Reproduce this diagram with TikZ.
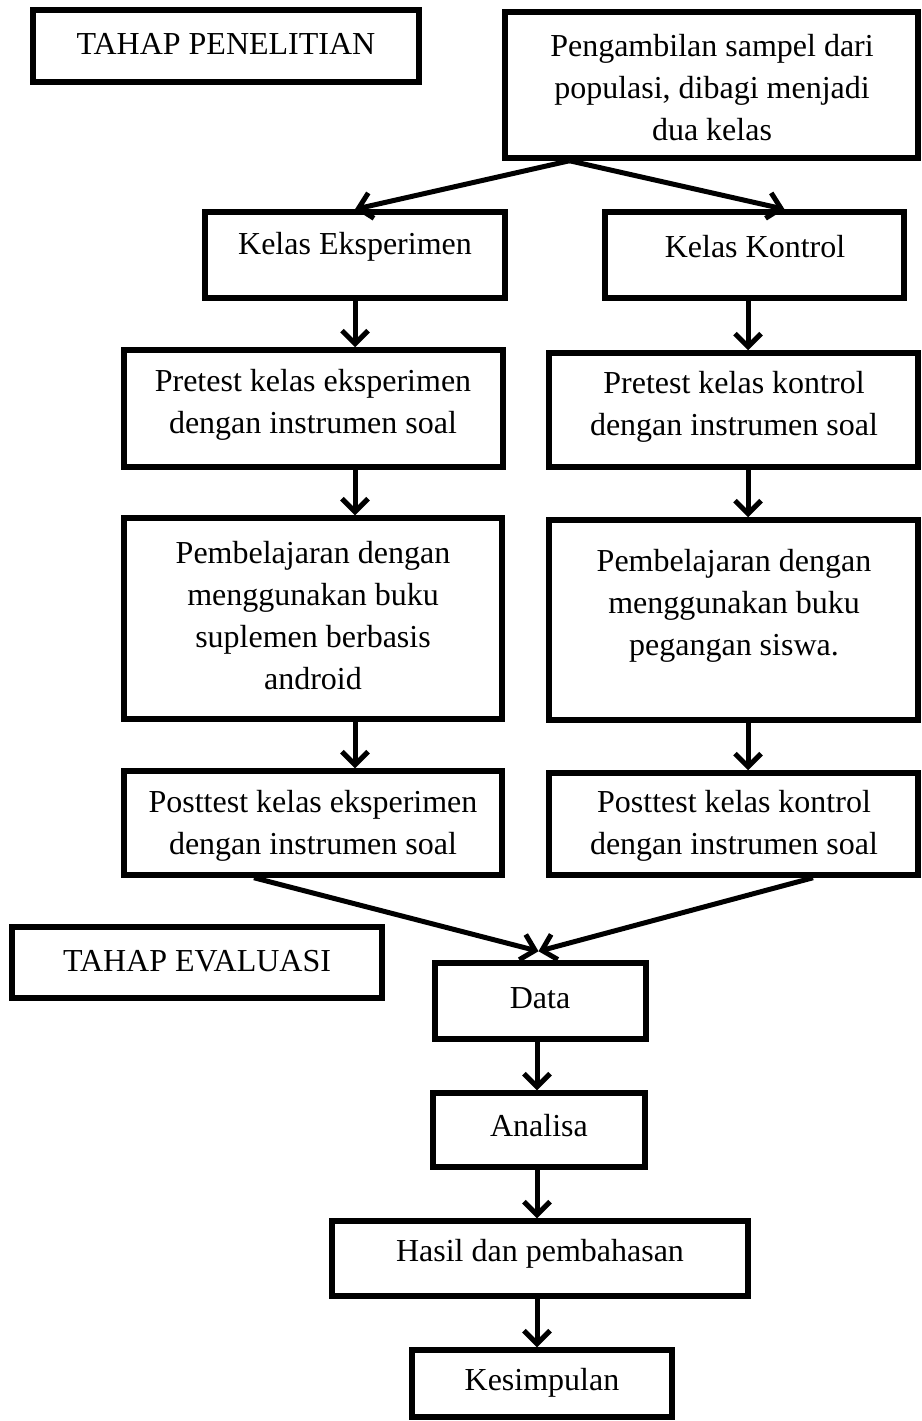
\documentclass[tikz,border=0pt]{standalone}
\usepackage{fontspec}
\setmainfont{Liberation Serif}
\usetikzlibrary{arrows.meta,calc}
\begin{document}
\begin{tikzpicture}[x=1pt,y=-1pt,
  box/.style={draw, line width=5.5pt, rectangle, inner sep=0pt},
  txt/.style={inner sep=0pt, align=center, font=\fontsize{32}{42}\selectfont},
  arr/.style={line width=5pt, -{Straight Barb[length=13pt,width=26pt]}}]
\useasboundingbox (0,0) rectangle (921,1421);
% boxes
\node[box, minimum width=386pt, minimum height=72pt] (tp) at (226,46) {};
\node[box, minimum width=413pt, minimum height=146pt] (peng) at (711.5,85) {};
\node[box, minimum width=300pt, minimum height=86pt] (ke) at (355,255) {};
\node[box, minimum width=299pt, minimum height=86pt] (kk) at (754.5,255) {};
\node[box, minimum width=379pt, minimum height=117pt] (pe) at (313.5,408.5) {};
\node[box, minimum width=369pt, minimum height=114pt] (pk) at (733.5,410) {};
\node[box, minimum width=378pt, minimum height=201pt] (be) at (313,618.5) {};
\node[box, minimum width=369pt, minimum height=200pt] (bk) at (733.5,620) {};
\node[box, minimum width=378pt, minimum height=104pt] (qe) at (313,823) {};
\node[box, minimum width=369pt, minimum height=102pt] (qk) at (733.5,824) {};
\node[box, minimum width=370pt, minimum height=71pt] (te) at (197,962.5) {};
\node[box, minimum width=211pt, minimum height=76pt] (data) at (540.5,1001) {};
\node[box, minimum width=212pt, minimum height=74pt] (an) at (539,1130) {};
\node[box, minimum width=416pt, minimum height=75pt] (hs) at (540,1258.5) {};
\node[box, minimum width=260pt, minimum height=67pt] (ks) at (542,1383.5) {};
% texts
\node[txt] (tpT) at (226,44) {TAHAP PENELITIAN};
\node[txt] (pengT) at (712,88) {Pengambilan sampel dari\\populasi, dibagi menjadi\\dua kelas};
\node[txt] (keT) at (355,247) {Kelas Eksperimen};
\node[txt] (kkT) at (755,247) {Kelas Kontrol};
\node[txt] (peT) at (313,405) {Pretest kelas eksperimen\\dengan instrumen soal};
\node[txt] (pkT) at (734,407) {Pretest kelas kontrol\\dengan instrumen soal};
\node[txt] (beT) at (313,616) {Pembelajaran dengan\\menggunakan buku\\suplemen berbasis\\android};
\node[txt] (bkT) at (734,606) {Pembelajaran dengan\\menggunakan buku\\pegangan siswa.};
\node[txt] (qeT) at (313,826) {Posttest kelas eksperimen\\dengan instrumen soal};
\node[txt] (qkT) at (734,826) {Posttest kelas kontrol\\dengan instrumen soal};
\node[txt] (teT) at (197,961) {TAHAP EVALUASI};
\node[txt] (dataT) at (540,998) {Data};
\node[txt] (anT) at (539,1126) {Analisa};
\node[txt] (hsT) at (540,1254) {Hasil dan pembahasan};
\node[txt] (ksT) at (542,1383) {Kesimpulan};
% helper coordinates
\coordinate (pb) at ($(peng.south)+(-142,0)$);
\coordinate (kkin) at ($(kk.north)+(30,0)$);
\coordinate (lx) at (355,0);
\coordinate (rx) at (748,0);
\coordinate (cx) at (537,0);
\coordinate (qes) at ($(qe.south)+(-59,0)$);
\coordinate (qks) at ($(qk.south)+(79.5,0)$);
\coordinate (dt) at ($(data.north)+(-2,-9)$);
% connectors
\draw[arr] (pb) -- (ke.north);
\draw[arr] (pb) -- (kkin);
\draw[arr] (lx |- ke.south) -- (lx |- pe.north);
\draw[arr] (rx |- kk.south) -- (rx |- pk.north);
\draw[arr] (lx |- pe.south) -- (lx |- be.north);
\draw[arr] (rx |- pk.south) -- (rx |- bk.north);
\draw[arr] (lx |- be.south) -- (lx |- qe.north);
\draw[arr] (rx |- bk.south) -- (rx |- qk.north);
\draw[arr] (qes) -- (dt);
\draw[arr] (qks) -- (dt);
\draw[arr] (cx |- data.south) -- (cx |- an.north);
\draw[arr] (cx |- an.south) -- (cx |- hs.north);
\draw[arr] (cx |- hs.south) -- (cx |- ks.north);
\end{tikzpicture}
\end{document}
